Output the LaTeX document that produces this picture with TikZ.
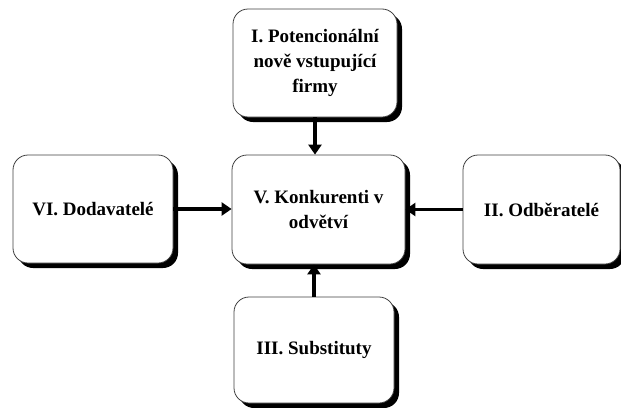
\documentclass[tikz,border=0pt]{standalone}
\usepackage{fontspec}
\setmainfont{Liberation Serif}
\usetikzlibrary{shadows,arrows.meta}
\begin{document}
\begin{tikzpicture}[x=1pt,y=-1pt,
  box/.style={draw=black!75, line width=0.8pt, fill=white, rounded corners=15pt,
    drop shadow={shadow xshift=5pt, shadow yshift=-5pt, fill=black, opacity=1},
    align=center, font=\fontsize{19}{25}\selectfont\bfseries, inner sep=2pt},
  arr/.style={line width=3.2pt, -{Triangle[length=10pt,width=13pt]}}]
\useasboundingbox (0,0) rectangle (621,407);
\node[box, minimum width=164pt, minimum height=108pt] (top) at (315,63) {I. Potencionální\\nově vstupující\\firmy};
\node[box, minimum width=173pt, minimum height=109pt] (mid) at (318.5,209.5) {V. Konkurenti v\\odvětví};
\node[box, minimum width=160pt, minimum height=108pt] (lft) at (93,209) {VI. Dodavatelé};
\node[box, minimum width=157pt, minimum height=109pt] (rgt) at (541.5,209.5) {II. Odběratelé};
\node[box, minimum width=160pt, minimum height=106pt] (bot) at (314,350) {III. Substituty};
\draw[arr] (top.south) -- (top.south |- mid.north);
\draw[arr] (lft.east) -- (lft.east -| mid.west);
\draw[arr] (rgt.west) -- (rgt.west -| mid.east);
\draw[arr] (bot.north) -- (bot.north |- mid.south);
\end{tikzpicture}
\end{document}
